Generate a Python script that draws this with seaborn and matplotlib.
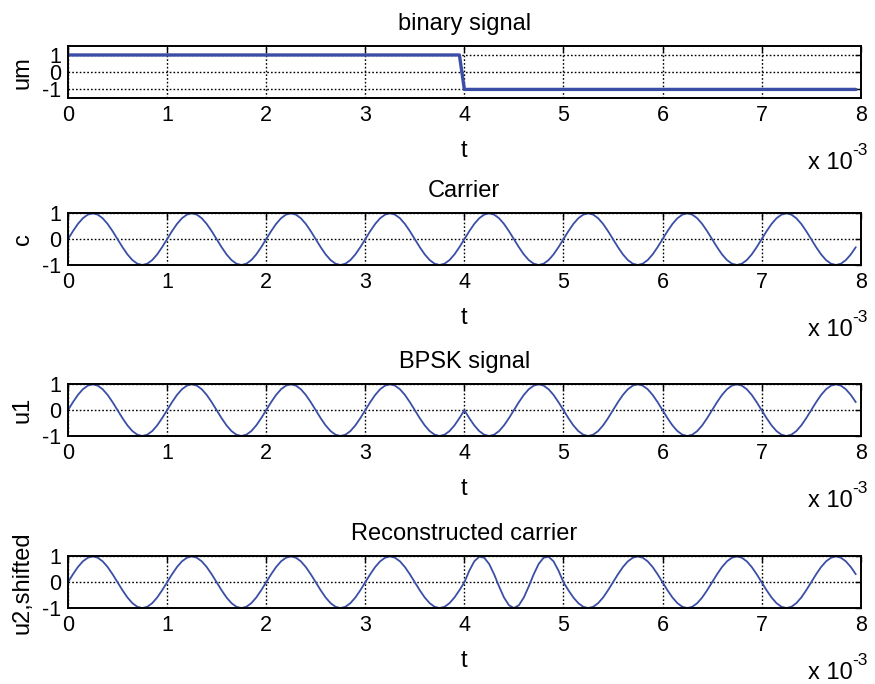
import matplotlib
matplotlib.use("Agg")
import matplotlib.pyplot as plt
import seaborn as sns

# sample times in ms (plotted against an x 10^-3 s axis)
t_ms = [
    0.00, 0.05, 0.10, 0.15, 0.20, 0.25, 0.30, 0.35, 0.40, 0.45, 0.50, 0.55, 0.60, 0.65, 0.70, 0.75, 0.80, 0.85, 0.90, 0.95,
    1.00, 1.05, 1.10, 1.15, 1.20, 1.25, 1.30, 1.35, 1.40, 1.45, 1.50, 1.55, 1.60, 1.65, 1.70, 1.75, 1.80, 1.85, 1.90, 1.95,
    2.00, 2.05, 2.10, 2.15, 2.20, 2.25, 2.30, 2.35, 2.40, 2.45, 2.50, 2.55, 2.60, 2.65, 2.70, 2.75, 2.80, 2.85, 2.90, 2.95,
    3.00, 3.05, 3.10, 3.15, 3.20, 3.25, 3.30, 3.35, 3.40, 3.45, 3.50, 3.55, 3.60, 3.65, 3.70, 3.75, 3.80, 3.85, 3.90, 3.95,
    4.00, 4.05, 4.10, 4.15, 4.20, 4.25, 4.30, 4.35, 4.40, 4.45, 4.50, 4.55, 4.60, 4.65, 4.70, 4.75, 4.80, 4.85, 4.90, 4.95,
    5.00, 5.05, 5.10, 5.15, 5.20, 5.25, 5.30, 5.35, 5.40, 5.45, 5.50, 5.55, 5.60, 5.65, 5.70, 5.75, 5.80, 5.85, 5.90, 5.95,
    6.00, 6.05, 6.10, 6.15, 6.20, 6.25, 6.30, 6.35, 6.40, 6.45, 6.50, 6.55, 6.60, 6.65, 6.70, 6.75, 6.80, 6.85, 6.90, 6.95,
    7.00, 7.05, 7.10, 7.15, 7.20, 7.25, 7.30, 7.35, 7.40, 7.45, 7.50, 7.55, 7.60, 7.65, 7.70, 7.75, 7.80, 7.85, 7.90, 7.95,
]

um = [
    1, 1, 1, 1, 1, 1, 1, 1, 1, 1, 1, 1, 1, 1, 1, 1, 1, 1, 1, 1,
    1, 1, 1, 1, 1, 1, 1, 1, 1, 1, 1, 1, 1, 1, 1, 1, 1, 1, 1, 1,
    1, 1, 1, 1, 1, 1, 1, 1, 1, 1, 1, 1, 1, 1, 1, 1, 1, 1, 1, 1,
    1, 1, 1, 1, 1, 1, 1, 1, 1, 1, 1, 1, 1, 1, 1, 1, 1, 1, 1, 1,
    -1, -1, -1, -1, -1, -1, -1, -1, -1, -1, -1, -1, -1, -1, -1, -1, -1, -1, -1, -1,
    -1, -1, -1, -1, -1, -1, -1, -1, -1, -1, -1, -1, -1, -1, -1, -1, -1, -1, -1, -1,
    -1, -1, -1, -1, -1, -1, -1, -1, -1, -1, -1, -1, -1, -1, -1, -1, -1, -1, -1, -1,
    -1, -1, -1, -1, -1, -1, -1, -1, -1, -1, -1, -1, -1, -1, -1, -1, -1, -1, -1, -1,
]

carrier = [
    0, .31, .59, .81, .95, 1, .95, .81, .59, .31, 0, -.31, -.59, -.81, -.95, -1, -.95, -.81, -.59, -.31,
    0, .31, .59, .81, .95, 1, .95, .81, .59, .31, 0, -.31, -.59, -.81, -.95, -1, -.95, -.81, -.59, -.31,
    0, .31, .59, .81, .95, 1, .95, .81, .59, .31, 0, -.31, -.59, -.81, -.95, -1, -.95, -.81, -.59, -.31,
    0, .31, .59, .81, .95, 1, .95, .81, .59, .31, 0, -.31, -.59, -.81, -.95, -1, -.95, -.81, -.59, -.31,
    0, .31, .59, .81, .95, 1, .95, .81, .59, .31, 0, -.31, -.59, -.81, -.95, -1, -.95, -.81, -.59, -.31,
    0, .31, .59, .81, .95, 1, .95, .81, .59, .31, 0, -.31, -.59, -.81, -.95, -1, -.95, -.81, -.59, -.31,
    0, .31, .59, .81, .95, 1, .95, .81, .59, .31, 0, -.31, -.59, -.81, -.95, -1, -.95, -.81, -.59, -.31,
    0, .31, .59, .81, .95, 1, .95, .81, .59, .31, 0, -.31, -.59, -.81, -.95, -1, -.95, -.81, -.59, -.31,
]

bpsk = [
    0, .31, .59, .81, .95, 1, .95, .81, .59, .31, 0, -.31, -.59, -.81, -.95, -1, -.95, -.81, -.59, -.31,
    0, .31, .59, .81, .95, 1, .95, .81, .59, .31, 0, -.31, -.59, -.81, -.95, -1, -.95, -.81, -.59, -.31,
    0, .31, .59, .81, .95, 1, .95, .81, .59, .31, 0, -.31, -.59, -.81, -.95, -1, -.95, -.81, -.59, -.31,
    0, .31, .59, .81, .95, 1, .95, .81, .59, .31, 0, -.31, -.59, -.81, -.95, -1, -.95, -.81, -.59, -.31,
    0, -.31, -.59, -.81, -.95, -1, -.95, -.81, -.59, -.31, 0, .31, .59, .81, .95, 1, .95, .81, .59, .31,
    0, -.31, -.59, -.81, -.95, -1, -.95, -.81, -.59, -.31, 0, .31, .59, .81, .95, 1, .95, .81, .59, .31,
    0, -.31, -.59, -.81, -.95, -1, -.95, -.81, -.59, -.31, 0, .31, .59, .81, .95, 1, .95, .81, .59, .31,
    0, -.31, -.59, -.81, -.95, -1, -.95, -.81, -.59, -.31, 0, .31, .59, .81, .95, 1, .95, .81, .59, .31,
]

recon = [
    0, .31, .59, .81, .95, 1, .95, .81, .59, .31, 0, -.31, -.59, -.81, -.95, -1, -.95, -.81, -.59, -.31,
    0, .31, .59, .81, .95, 1, .95, .81, .59, .31, 0, -.31, -.59, -.81, -.95, -1, -.95, -.81, -.59, -.31,
    0, .31, .59, .81, .95, 1, .95, .81, .59, .31, 0, -.31, -.59, -.81, -.95, -1, -.95, -.81, -.59, -.31,
    0, .31, .59, .81, .95, 1, .95, .81, .59, .31, 0, -.31, -.59, -.81, -.95, -1, -.95, -.81, -.59, -.31,
    0, .45, .81, .99, .95, .71, .31, -.16, -.59, -.89, -1, -.89, -.59, -.16, .31, .71, .95, .99, .81, .45,
    0, -.31, -.59, -.81, -.95, -1, -.95, -.81, -.59, -.31, 0, .31, .59, .81, .95, 1, .95, .81, .59, .31,
    0, -.31, -.59, -.81, -.95, -1, -.95, -.81, -.59, -.31, 0, .31, .59, .81, .95, 1, .95, .81, .59, .31,
    0, -.31, -.59, -.81, -.95, -1, -.95, -.81, -.59, -.31, 0, .31, .59, .81, .95, 1, .95, .81, .59, .31,
]

titles = ["binary signal", "Carrier", "BPSK signal", "Reconstructed carrier"]
ylabels = ["um", "c", "u1", "u2,shifted"]
xticks = [0, 1, 2, 3, 4, 5, 6, 7, 8]
yticks = [-1, 0, 1]

sns.set_theme(style="white")
plt.rcParams['font.family'] = ['Liberation Sans', 'DejaVu Sans']
plt.rcParams['text.color'] = 'black'
plt.rcParams['axes.labelcolor'] = 'black'

blue = "#3b4ea6"
fig = plt.figure(figsize=(8.75, 6.84), dpi=100)

# axes placement in figure fractions (left, bottom, width, height)
left, width = 0.0777, 0.906
bottoms = [0.8567, 0.6126, 0.3626, 0.111]
height = 0.0755

series = [um, carrier, bpsk, recon]
for i, y in enumerate(series):
    ax = fig.add_axes([left, bottoms[i], width, height])
    sns.lineplot(x=t_ms, y=y, ax=ax, color=blue, estimator=None,
                 linewidth=2.4 if i == 0 else 1.3)
    ax.set_xlim(0, 8)
    if i == 0:
        ax.set_ylim(-1.5, 1.5)
    else:
        ax.set_ylim(-1, 1)
    ax.set_xticks(xticks)
    ax.set_yticks(yticks)
    ax.set_xticklabels([str(v) for v in xticks])
    ax.set_yticklabels([str(v) for v in yticks])
    ax.tick_params(direction="in", length=4, width=1.0, top=True, right=True,
                   labelsize=15.5, pad=5, colors="black")
    ax.grid(True, color="black", linestyle=(0, (1.2, 1.5)), linewidth=1.0)
    for s in ax.spines.values():
        s.set_color("black")
        s.set_linewidth(1.4)
    ax.set_title(titles[i], fontsize=17, pad=12, color="black")
    ax.set_xlabel("t", fontsize=17, labelpad=10)
    ax.set_ylabel(ylabels[i], fontsize=17, labelpad=6)
    # MATLAB-style exponent label: "x 10" with a raised plain-hyphen "-3"
    ax.annotate("x 10", xy=(1, 0), xycoords="axes fraction",
                xytext=(-6, -47), textcoords="offset points",
                ha="right", va="center", fontsize=17)
    ax.annotate("-3", xy=(1, 0), xycoords="axes fraction",
                xytext=(5, -38), textcoords="offset points",
                ha="right", va="center", fontsize=12.5)

fig.savefig("out.png", dpi=100)
